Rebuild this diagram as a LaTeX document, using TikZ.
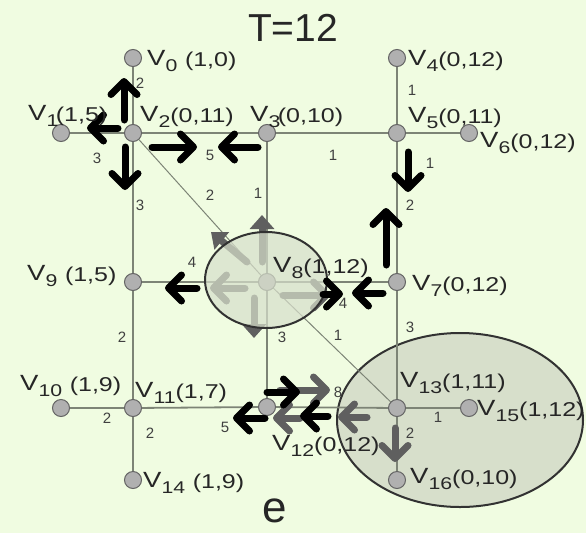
\documentclass[tikz,border=0pt]{standalone}
\usepackage{fontspec}
\setmainfont{Liberation Sans}
\usepackage{graphicx}
\usepackage{xcolor}
\usetikzlibrary{arrows.meta, positioning, shapes.geometric}

\definecolor{bgcol}{RGB}{240,252,225}
\definecolor{edgecol}{RGB}{125,132,118}
\definecolor{vfill}{RGB}{176,176,176}
\definecolor{vdraw}{RGB}{100,100,100}
\definecolor{blobfill}{RGB}{215,223,203}
\definecolor{blobdraw}{RGB}{50,50,50}
\definecolor{garrcol}{RGB}{95,95,95}

% vertex label: V_sub (a,b), slightly stretched
\newcommand{\vlab}[3]{\scalebox{1.25}[1]{\fontsize{22}{22}\selectfont V\raisebox{-6pt}{\fontsize{17}{17}\selectfont #1}#2\raisebox{-1pt}{\fontsize{20}{20}\selectfont #3}}}

\begin{document}
\begin{tikzpicture}[
  x=1pt, y=-1pt,
  node distance=54pt,
  vtx/.style={circle, draw=vdraw, fill=vfill, line width=1pt, minimum size=17pt, inner sep=0pt},
  edge/.style={draw=edgecol, line width=1.8pt},
  lab/.style={anchor=base west, inner sep=0pt, text=black!85},
  wlab/.style={font=\fontsize{15}{15}\selectfont, text=black!75, inner sep=0pt},
  blob/.style={ellipse, draw=blobdraw, line width=2pt, fill=blobfill, inner sep=0pt},
  arr/.style={-{Straight Barb[length=13pt, width=26pt, line width=7pt, round]}, line width=7pt, line cap=round, draw=black},
  garr/.style={arr, draw=garrcol}
]
\fill[bgcol] (0,0) rectangle (586,533);
\useasboundingbox (0,0) rectangle (586,533);

\node[text=black!85] (title) at (293,28) {\fontsize{39}{39}\selectfont T=12};
\node[text=black!85] (cap) at (275,511) {\fontsize{44}{44}\selectfont e};

% group around v13
\node[blob, minimum width=246pt, minimum height=174pt] (grpB) at (460,420) {};

% vertices
\node[vtx] (v2) at (133,133) {};
\node[vtx] (v3) at (267,133) {};
\node[vtx] (v5) at (397,133) {};
\node[vtx] (v9) at (133,282) {};
\node[vtx] (v8) at (267,282) {};
\node[vtx] (v7) at (397,282) {};
\node[vtx] (v11) at (133,408) {};
\node[vtx] (v12) at (267,407) {};
\node[vtx] (v13) at (397,408) {};
\node[vtx, above=57pt of v2] (v0) {};
\node[vtx, left=of v2] (v1) {};
\node[vtx, above=57pt of v5] (v4) {};
\node[vtx, right=of v5] (v6) {};
\node[vtx, left=of v11] (v10) {};
\node[vtx, below=of v11] (v14) {};
\node[vtx, right=of v13] (v15) {};
\node[vtx, below=of v13] (v16) {};

% edges
\draw[edge] (v0) -- (v2);
\draw[edge] (v1) -- (v2);
\draw[edge] (v2) -- (v3);
\draw[edge] (v3) -- (v5);
\draw[edge] (v4) -- (v5);
\draw[edge] (v5) -- (v6);
\draw[edge] (v5) -- (v7);
\draw[edge] (v2) -- (v9);
\draw[edge, line width=1pt] (v2) -- (v8);
\draw[edge] (v3) -- (v8);
\draw[edge] (v9) -- (v8);
\draw[edge] (v8) -- (v7);
\draw[edge] (v9) -- (v11);
\draw[edge] (v8) -- (v12);
\draw[edge, line width=1pt] (v8) -- (v13);
\draw[edge] (v7) -- (v13);
\draw[edge] (v10) -- (v11);
\draw[edge] (v11) -- (v12);
\draw[edge] (v12) -- (v13);
\draw[edge] (v11) -- (v14);
\draw[edge] (v13) -- (v15);
\draw[edge] (v13) -- (v16);

% edge weights
\node[wlab] (w02) at (140,83) {2};
\node[wlab] (w12) at (97,158) {3};
\node[wlab] (w23) at (210,155) {5};
\node[wlab] (w28) at (210,195) {2};
\node[wlab] (w38) at (258,193) {1};
\node[wlab] (w29) at (140,205) {3};
\node[wlab] (w98) at (192,262) {4};
\node[wlab] (w911) at (122,337) {2};
\node[wlab] (w812) at (282,337) {3};
\node[wlab] (w35) at (333,155) {1};
\node[wlab] (w45) at (412,90) {1};
\node[wlab] (w56) at (430,163) {1};
\node[wlab] (w57) at (410,205) {2};
\node[wlab] (w87) at (343,303) {4};
\node[wlab] (w813) at (338,335) {1};
\node[wlab] (w713) at (410,327) {3};
\node[wlab] (w1011) at (107,418) {2};
\node[wlab] (w1114) at (150,433) {2};
\node[wlab] (w1112) at (225,427) {5};
\node[wlab] (w1213) at (338,392) {8};
\node[wlab] (w1315) at (438,417) {1};
\node[wlab] (w1316) at (410,433) {2};

% gray moves
\draw[garr, -{Triangle[length=14pt, width=24pt]}] ([shift={(-5,-20)}]v8.center) -- ++(0,-47);
\draw[garr, -{Triangle[length=14pt, width=22pt]}] ([shift={(-20,-20)}]v8.center) -- ++(-36,-30);
\draw[garr] ([shift={(-22,6)}]v8.center) -- ++(-35,0);
\draw[garr, -{Triangle[length=14pt, width=24pt]}] ([shift={(-13,16)}]v8.center) -- ++(0,40);
\draw[garr] ([shift={(16,13)}]v8.center) -- ++(47,0);
\draw[garr] ([shift={(13,-17)}]v12.center) -- ++(50,0);
\draw[garr] ([shift={(33,11)}]v12.center) -- ++(-27,0);
\draw[garr] ([shift={(-30,9)}]v13.center) -- ++(-29,0);
\draw[garr] ([shift={(-2,20)}]v13.center) -- ++(0,34);

% group around v8
\node[blob, fill opacity=0.72, minimum width=122pt, minimum height=96pt] (grpA) at (266,280) {};

% black moves
\draw[arr] ([shift={(-9,-13)}]v2.center) -- ++(0,-42);
\draw[arr] ([shift={(-15,-5)}]v2.center) -- ++(-31,0);
\draw[arr] ([shift={(-8,14)}]v2.center) -- ++(0,43);
\draw[arr] ([shift={(19,14)}]v2.center) -- ++(45,0);
\draw[arr] ([shift={(-9,14)}]v3.center) -- ++(-40,0);
\draw[arr] ([shift={(11,19)}]v5.center) -- ++(0,40);
\draw[arr] ([shift={(-11,-17)}]v7.center) -- ++(0,-57);
\draw[arr] ([shift={(-14,11)}]v7.center) -- ++(-31,0);
\draw[arr] ([shift={(56,12)}]v8.center) -- ++(20,0);
\draw[arr] ([shift={(64,6)}]v9.center) -- ++(-32,0);
\draw[arr] ([shift={(0,-15)}]v12.center) -- ++(33,0);
\draw[arr] ([shift={(61,9)}]v12.center) -- ++(-28,0);
\draw[arr] ([shift={(-2,11)}]v12.center) -- ++(-32,0);

% vertex labels
\node[lab] (l0) at (147,65) {\vlab{0}{\ }{(1,0)}};
\node[lab] (l1) at (28,120) {\vlab{1}{\kern-2pt}{(1,5)}};
\node[lab] (l2) at (140,121) {\vlab{2}{}{(0,11)}};
\node[lab] (l3) at (250,121) {\vlab{3}{\kern-2pt}{(0,10)}};
\node[lab] (l4) at (408,65) {\vlab{4}{}{(0,12)}};
\node[lab] (l5) at (408,122) {\vlab{5}{}{(0,11)}};
\node[lab] (l6) at (480,147) {\vlab{6}{}{(0,12)}};
\node[lab] (l7) at (412,290) {\vlab{7}{}{(0,12)}};
\node[lab] (l8) at (273,272) {\vlab{8}{}{(1,12)}};
\node[lab] (l9) at (27,280) {\vlab{9}{\ }{(1,5)}};
\node[lab] (l10) at (20,390) {\vlab{10}{\ }{(1,9)}};
\node[lab] (l11) at (135,397) {\vlab{11}{}{(1,7)}};
\node[lab] (l12) at (272,450) {\vlab{12}{}{(0,12)}};
\node[lab] (l13) at (400,387) {\vlab{13}{}{(1,11)}};
\node[lab] (l14) at (143,487) {\vlab{14}{\ }{(1,9)}};
\node[lab] (l15) at (477,415) {\vlab{15}{}{(1,12)}};
\node[lab] (l16) at (410,483) {\vlab{16}{}{(0,10)}};
\end{tikzpicture}
\end{document}
